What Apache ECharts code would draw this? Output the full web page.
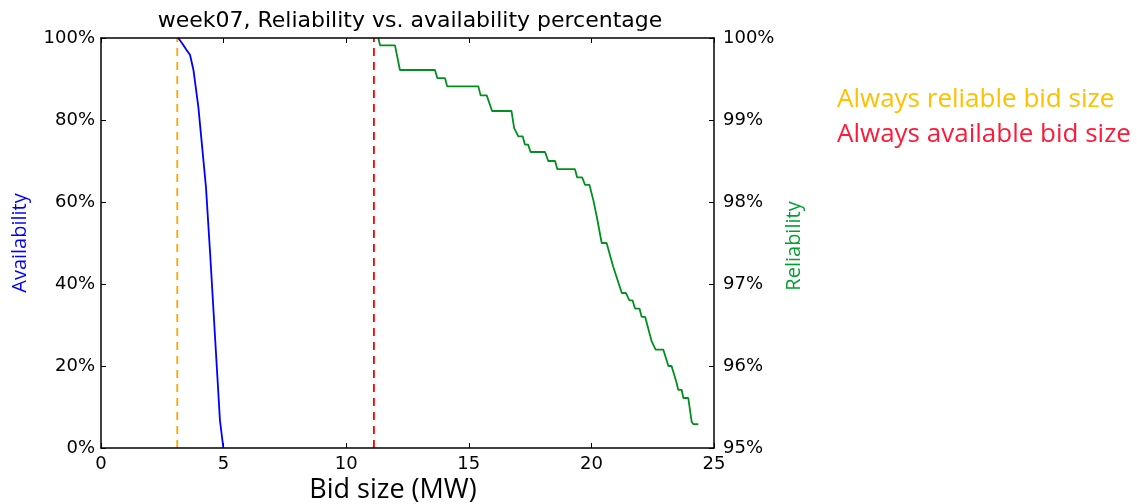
<!DOCTYPE html>
<html>
<head>
<meta charset="utf-8">
<script src="https://cdn.jsdelivr.net/npm/echarts@6/dist/echarts.min.js"></script>
<style>
html,body{margin:0;padding:0;background:#fff;}
#c{width:1137px;height:504px;}
</style>
</head>
<body>
<div id="c"></div>
<script>
// ---- data ----
const xTicks = [0, 5, 10, 15, 20, 25];
const availTicks = [0, 20, 40, 60, 80, 100];
const relTicks = [95, 96, 97, 98, 99, 100];

// Availability (%) vs bid size (MW)
const availX = [3.15, 3.30, 3.49, 3.63, 3.77, 3.97, 4.28, 4.45, 4.69, 4.85, 4.99];
const availY = [100, 98.8, 97.1, 95.9, 92.2, 83.2, 63.7, 47.5, 23.1, 6.8, 0];

// Reliability (%) vs bid size (MW)
const relX = [11.31, 11.38, 11.99, 12.19, 13.62, 13.72, 14.03, 14.12, 15.39, 15.48, 15.73, 15.95, 16.74,
  16.85, 17.02, 17.20, 17.29, 17.42, 17.52, 18.11, 18.24, 18.52, 18.61, 19.33, 19.42, 19.62, 19.74, 19.92,
  20.08, 20.22, 20.42, 20.62, 20.89, 21.24, 21.41, 21.55, 21.68, 21.78, 21.96, 22.05, 22.19, 22.28, 22.36,
  22.46, 22.62, 22.93, 23.14, 23.27, 23.48, 23.54, 23.68, 23.75, 23.95, 24.09, 24.16, 24.36];
const relY = [100, 99.91, 99.91, 99.61, 99.61, 99.51, 99.51, 99.41, 99.41, 99.30, 99.30, 99.11, 99.11,
  98.90, 98.80, 98.80, 98.70, 98.70, 98.61, 98.61, 98.50, 98.50, 98.40, 98.40, 98.30, 98.30, 98.21, 98.21,
  98.02, 97.82, 97.50, 97.50, 97.21, 96.89, 96.89, 96.80, 96.80, 96.70, 96.70, 96.60, 96.60, 96.50, 96.50,
  96.30, 96.20, 96.20, 96.00, 96.00, 95.79, 95.71, 95.71, 95.61, 95.61, 95.32, 95.29, 95.29];

const reliableBid = 3.11;   // Always reliable bid size
const availableBid = 11.13; // Always available bid size

const titleText = 'week07, Reliability vs. availability percentage';
const xName = 'Bid size (MW)';
const leftName = 'Availability';
const rightName = 'Reliability';
const legendReliable = 'Always reliable bid size';
const legendAvailable = 'Always available bid size';

// ---- chart ----
const chart = echarts.init(document.getElementById('c'), null, {renderer: 'canvas'});
const tickFont = {fontFamily: 'DejaVu Sans', fontSize: 18, color: '#000'};
const spine = {show: true, onZero: false, lineStyle: {color: '#000', width: 1.5}};
const inTick = {show: true, inside: true, length: 5, lineStyle: {color: '#000', width: 1}};

const option = {
  animation: false,
  backgroundColor: '#fff',
  title: {
    text: titleText,
    left: 405, top: 5, textAlign: 'center',
    textStyle: {fontFamily: 'DejaVu Sans', fontSize: 22, fontWeight: 'normal', color: '#000'}
  },
  grid: {left: 101, right: 423, top: 38, bottom: 56, containLabel: false, outerBoundsMode: 'none'},
  xAxis: [
    {
      type: 'value', min: xTicks[0], max: xTicks[xTicks.length - 1], interval: 5,
      position: 'bottom', z: 5,
      axisLine: spine, axisTick: inTick, splitLine: {show: false},
      axisLabel: Object.assign({margin: 7}, tickFont)
    },
    {
      type: 'value', min: 0, max: 25, interval: 5, position: 'top', z: 5,
      axisLine: spine, axisTick: inTick, splitLine: {show: false}, axisLabel: {show: false}
    }
  ],
  yAxis: [
    {
      type: 'value', min: availTicks[0], max: availTicks[availTicks.length - 1], interval: 20,
      position: 'left', z: 5,
      axisLine: spine, axisTick: inTick, splitLine: {show: false},
      axisLabel: Object.assign({margin: 6, formatter: '{value}%'}, tickFont)
    },
    {
      type: 'value', min: relTicks[0], max: relTicks[relTicks.length - 1], interval: 1,
      position: 'right', z: 5,
      axisLine: spine, axisTick: inTick, splitLine: {show: false},
      axisLabel: Object.assign({margin: 9, formatter: '{value}%'}, tickFont)
    }
  ],
  graphic: [
    {type: 'text', x: 393, y: 490,
      style: {text: xName, fill: '#000', font: '27px "Open Sans"', textAlign: 'center', textVerticalAlign: 'middle'}},
    {type: 'text', x: 20, y: 243, rotation: Math.PI / 2,
      style: {text: leftName, fill: '#0000ff', font: '20px "Open Sans"', textAlign: 'center', textVerticalAlign: 'middle'}},
    {type: 'text', x: 794, y: 246, rotation: Math.PI / 2,
      style: {text: rightName, fill: '#00a030', font: '20px "Open Sans"', textAlign: 'center', textVerticalAlign: 'middle'}},
    {type: 'text', x: 837, y: 100,
      style: {text: legendReliable, fill: '#ffc000', font: '26px "Open Sans"', textAlign: 'left', textVerticalAlign: 'middle'}},
    {type: 'text', x: 837, y: 135,
      style: {text: legendAvailable, fill: '#ff1a3a', font: '26px "Open Sans"', textAlign: 'left', textVerticalAlign: 'middle'}}
  ],
  series: [
    {
      name: 'Availability', type: 'line', xAxisIndex: 0, yAxisIndex: 0, showSymbol: false, symbol: 'none',
      lineStyle: {color: '#0000ff', width: 1.8}, z: 2,
      data: availX.map((x, i) => [x, availY[i]])
    },
    {
      name: 'Reliability', type: 'line', xAxisIndex: 0, yAxisIndex: 1, showSymbol: false, symbol: 'none',
      lineStyle: {color: '#009020', width: 1.8}, z: 2,
      data: relX.map((x, i) => [x, relY[i]])
    },
    {
      name: legendReliable, type: 'line', xAxisIndex: 0, yAxisIndex: 0, showSymbol: false, symbol: 'none',
      lineStyle: {color: '#ffa500', width: 1.8, type: [8, 6]}, z: 1,
      data: [[reliableBid, 0], [reliableBid, 100]]
    },
    {
      name: legendAvailable, type: 'line', xAxisIndex: 0, yAxisIndex: 0, showSymbol: false, symbol: 'none',
      lineStyle: {color: '#ff0000', width: 1.8, type: [8, 6]}, z: 1,
      data: [[availableBid, 0], [availableBid, 100]]
    }
  ]
};
chart.setOption(option);
</script>
</body>
</html>
